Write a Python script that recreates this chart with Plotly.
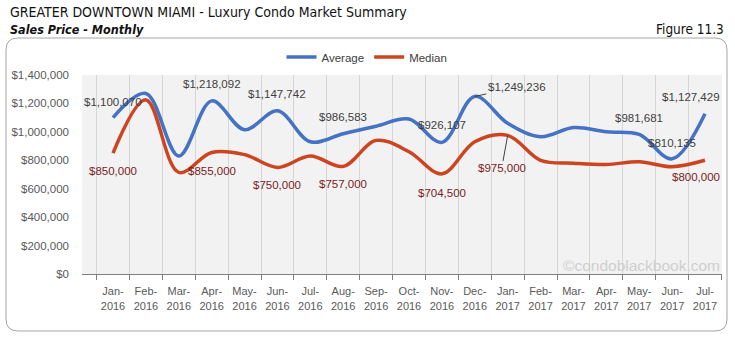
import plotly.graph_objects as go

months = ["Jan-2016", "Feb-2016", "Mar-2016", "Apr-2016", "May-2016", "Jun-2016", "Jul-2016",
          "Aug-2016", "Sep-2016", "Oct-2016", "Nov-2016", "Dec-2016", "Jan-2017", "Feb-2017",
          "Mar-2017", "Apr-2017", "May-2017", "Jun-2017", "Jul-2017"]
average = [1100070, 1270000, 830000, 1218092, 1015000, 1147742, 930000, 986583, 1040000, 1090000,
           926107, 1249236, 1060000, 965000, 1030000, 1000000, 981681, 810135, 1127429]
median = [850000, 1225000, 715000, 855000, 840000, 750000, 830000, 757000, 940000, 860000,
          704500, 930000, 975000, 800000, 780000, 770000, 790000, 755000, 800000]
y_ticks = [0, 200000, 400000, 600000, 800000, 1000000, 1200000, 1400000]

W, H = 735, 338
L, R, T, B = 82, 13, 75, 64
PW, PH = W - L - R, H - T - B

def px(x):
    return (x - L) / PW

def py(y):
    return (H - B - y) / PH

BLUE = "#4472c4"
RED = "#cc4420"
FONT = "Liberation Sans"
NARROW = "Liberation Sans Narrow, DejaVu Sans Condensed, Roboto, sans-serif"

fig = go.Figure()
fig.add_trace(go.Scatter(x=months, y=average, name="Average", mode="lines",
                         line=dict(color=BLUE, width=3.5, shape="spline", smoothing=1.0)))
fig.add_trace(go.Scatter(x=months, y=median, name="Median", mode="lines",
                         line=dict(color=RED, width=3.5, shape="spline", smoothing=1.0)))

ann = []
avg_labels = {0: (0, 16), 3: (0, 17), 5: (0, 17), 7: (0, 17), 10: (0, 17),
              16: (0, 16), 17: (0, 16), 18: (-14, 17)}
med_labels = {0: (0, -18), 3: (0, -19), 5: (0, -18), 7: (0, -18), 10: (0, -19),
              18: (-9, -17)}
for i, (xs, ys) in avg_labels.items():
    ann.append(dict(x=months[i], y=average[i], text=f"${average[i]:,.0f}", showarrow=False,
                    xshift=xs, yshift=ys, font=dict(family=FONT, size=11.5, color="#404040")))
for i, (xs, ys) in med_labels.items():
    ann.append(dict(x=months[i], y=median[i], text=f"${median[i]:,.0f}", showarrow=False,
                    xshift=xs, yshift=ys, font=dict(family=FONT, size=11.5, color="#7b1c1c")))
ann.append(dict(x=months[11], y=average[11], text=f"${average[11]:,.0f}", showarrow=True,
                arrowhead=0, arrowwidth=1, arrowcolor="#404040", ax=42, ay=-9,
                font=dict(family=FONT, size=11.5, color="#404040")))
ann.append(dict(x=months[12], y=median[12], text=f"${median[12]:,.0f}", showarrow=True,
                arrowhead=0, arrowwidth=1, arrowcolor="#404040", ax=-6, ay=33,
                font=dict(family=FONT, size=11.5, color="#7b1c1c")))

ann.append(dict(xref="paper", yref="paper", x=px(8), y=py(12), xanchor="left", yanchor="middle",
                text="GREATER DOWNTOWN MIAMI - Luxury Condo Market Summary", showarrow=False,
                font=dict(family=NARROW, size=14, color="#111111")))
ann.append(dict(xref="paper", yref="paper", x=px(8), y=py(29), xanchor="left", yanchor="middle",
                text="<b><i>Sales Price - Monthly</i></b>", showarrow=False,
                font=dict(family=NARROW, size=12.5, color="#111111")))
ann.append(dict(xref="paper", yref="paper", x=px(726), y=py(29), xanchor="right", yanchor="middle",
                text="Figure 11.3", showarrow=False,
                font=dict(family=NARROW, size=13.5, color="#111111")))
ann.append(dict(xref="paper", yref="paper", x=px(722), y=py(265), xanchor="right", yanchor="middle",
                text="©condoblackbook.com", showarrow=False,
                font=dict(family=FONT, size=15.5, color="#cfcfcf")))

x0, x1, y0, y1, r = 6, 727, 38, 331, 12
path = (f"M {px(x0+r)},{py(y0)} L {px(x1-r)},{py(y0)} Q {px(x1)},{py(y0)} {px(x1)},{py(y0+r)} "
        f"L {px(x1)},{py(y1-r)} Q {px(x1)},{py(y1)} {px(x1-r)},{py(y1)} "
        f"L {px(x0+r)},{py(y1)} Q {px(x0)},{py(y1)} {px(x0)},{py(y1-r)} "
        f"L {px(x0)},{py(y0+r)} Q {px(x0)},{py(y0)} {px(x0+r)},{py(y0)} Z")

fig.update_layout(
    width=W, height=H, margin=dict(l=L, r=R, t=T, b=B),
    paper_bgcolor="white", plot_bgcolor="#f2f2f2",
    font=dict(family=FONT, size=11.5, color="#595959"),
    showlegend=True,
    legend=dict(orientation="h", x=px(367), y=py(57), xanchor="center", yanchor="middle",
                font=dict(family=FONT, size=11.5, color="#404040"), bgcolor="rgba(0,0,0,0)",
                itemwidth=30, tracegroupgap=0),
    annotations=ann,
    shapes=[dict(type="path", path=path, xref="paper", yref="paper",
                 line=dict(color="#a6a6a6", width=1), layer="below")],
    xaxis=dict(type="category", tickvals=months, ticktext=[m.replace("-", "-<br>") for m in months],
               tickson="boundaries", showgrid=True, gridcolor="#d6d6d6", gridwidth=1,
               showline=True, linecolor="#808080", linewidth=1, ticks="outside", ticklen=5,
               tickcolor="#808080", tickangle=0, ticklabelstandoff=7,
               tickfont=dict(size=11, color="#595959"), zeroline=False),
    yaxis=dict(range=[0, 1400000], tickvals=y_ticks, ticktext=[f"${v:,.0f}" for v in y_ticks],
               showgrid=False, zeroline=False, showline=False, ticks="", ticklabelstandoff=12,
               tickfont=dict(size=11.5, color="#595959")),
)

fig.write_html("out.html")
